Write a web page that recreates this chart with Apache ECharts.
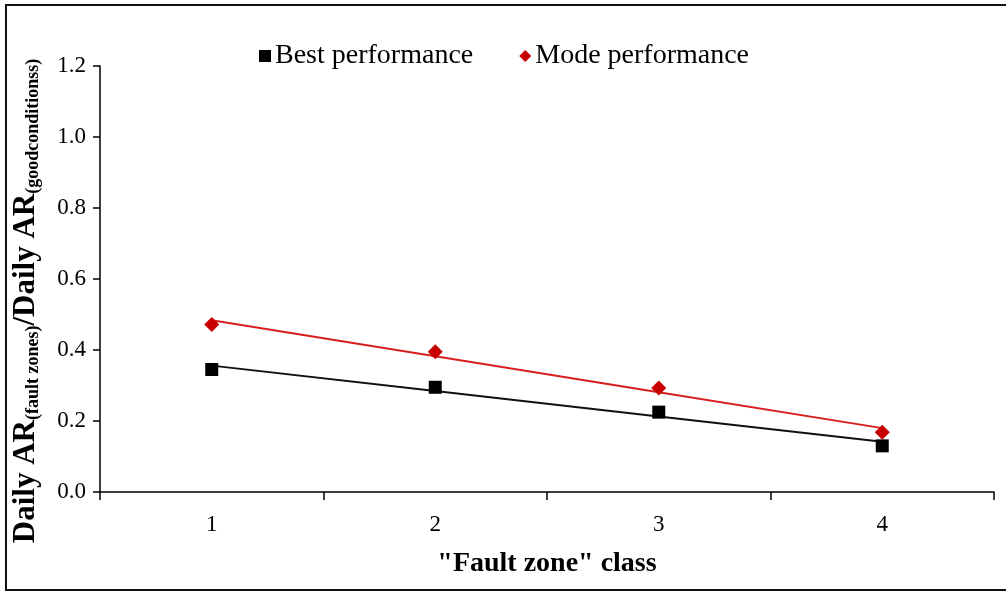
<!DOCTYPE html>
<html>
<head>
<meta charset="utf-8">
<script src="https://cdn.jsdelivr.net/npm/echarts@6/dist/echarts.min.js"></script>
<style>
  html, body { margin: 0; padding: 0; background: #fff; }
  #chart { width: 1006px; height: 592px; }
</style>
</head>
<body>
<div id="chart"></div>
<script>
// Fault-zone classes and the observed ratios for each performance level
const classes = ['1', '2', '3', '4'];
const bestPerformance = [0.345, 0.295, 0.225, 0.13];
const modePerformance = [0.472, 0.395, 0.293, 0.168];
const yTicks = { min: 0, max: 1.2, interval: 0.2 };

// Least-squares trend line through a series, evaluated at each class position
function linearTrend(values) {
  const n = values.length;
  const xs = values.map((_, i) => i + 1);
  const mx = xs.reduce((a, b) => a + b, 0) / n;
  const my = values.reduce((a, b) => a + b, 0) / n;
  let sxy = 0, sxx = 0;
  for (let i = 0; i < n; i++) {
    sxy += (xs[i] - mx) * (values[i] - my);
    sxx += (xs[i] - mx) * (xs[i] - mx);
  }
  const slope = sxy / sxx;
  return xs.map(x => +(my + slope * (x - mx)).toFixed(4));
}

const serif = '"Liberation Serif", "DejaVu Serif", serif';
const chart = echarts.init(document.getElementById('chart'), null, { renderer: 'canvas' });

chart.setOption({
  animation: false,
  backgroundColor: '#fff',
  textStyle: { fontFamily: serif, color: '#000' },
  graphic: [{
    type: 'rect',
    shape: { x: 6, y: 5, width: 1010, height: 585 },
    style: { fill: 'none', stroke: '#111', lineWidth: 2 },
    silent: true
  }],
  legend: {
    top: 37,
    left: 254,
    itemGap: 46,
    itemWidth: 12,
    itemHeight: 12,
    textStyle: { fontFamily: serif, fontSize: 28, color: '#000', padding: [0, 0, 0, -1] },
    data: [
      { name: 'Best performance', icon: 'rect', itemStyle: { color: '#000', opacity: 1 } },
      { name: 'Mode performance', icon: 'diamond', itemStyle: { color: '#c80000', opacity: 1 } }
    ]
  },
  grid: { left: 100, right: 12, top: 66, bottom: 100, outerBoundsMode: 'none', containLabel: false },
  xAxis: {
    type: 'category',
    data: classes,
    boundaryGap: true,
    axisLine: { lineStyle: { color: '#000', width: 1.5 } },
    axisTick: { show: true, length: 8, alignWithLabel: false, lineStyle: { color: '#000', width: 1.5 } },
    axisLabel: { color: '#000', fontFamily: serif, fontSize: 23, margin: 21 },
    name: '"Fault zone" class',
    nameLocation: 'middle',
    nameGap: 58,
    nameTextStyle: { fontFamily: serif, fontSize: 28, fontWeight: 'bold', color: '#000' }
  },
  yAxis: {
    type: 'value',
    min: yTicks.min,
    max: yTicks.max,
    interval: yTicks.interval,
    splitLine: { show: false },
    axisLine: { show: true, lineStyle: { color: '#000', width: 1.5 } },
    axisTick: { show: true, length: 7, lineStyle: { color: '#000', width: 1.5 } },
    axisLabel: { color: '#000', fontFamily: serif, fontSize: 23, margin: 14, formatter: v => v.toFixed(1) },
    name: '{m|Daily AR}{s|(fault zones)}{m|/Daily AR}{s|(goodconditionss)}',
    nameLocation: 'middle',
    nameRotate: 90,
    nameGap: 58,
    nameTextStyle: {
      padding: [0, 44, 0, 0],
      rich: {
        m: { fontFamily: serif, fontSize: 31, fontWeight: 'bold', color: '#000', lineHeight: 32, verticalAlign: 'middle' },
        s: { fontFamily: serif, fontSize: 18, fontWeight: 'bold', color: '#000', lineHeight: 16, verticalAlign: 'bottom' }
      }
    }
  },
  series: [
    {
      name: 'Best performance trend',
      type: 'line',
      data: linearTrend(bestPerformance),
      symbol: 'none',
      lineStyle: { color: '#111', width: 2 },
      z: 1
    },
    {
      name: 'Mode performance trend',
      type: 'line',
      data: linearTrend(modePerformance),
      symbol: 'none',
      lineStyle: { color: '#d81f1f', width: 2 },
      z: 1
    },
    {
      name: 'Best performance',
      type: 'scatter',
      data: bestPerformance,
      symbol: 'rect',
      symbolSize: 13,
      itemStyle: { color: '#000', opacity: 1 },
      z: 3
    },
    {
      name: 'Mode performance',
      type: 'scatter',
      data: modePerformance,
      symbol: 'diamond',
      symbolSize: [15, 15],
      itemStyle: { color: '#c80000', opacity: 1 },
      z: 3
    }
  ]
});
</script>
</body>
</html>
